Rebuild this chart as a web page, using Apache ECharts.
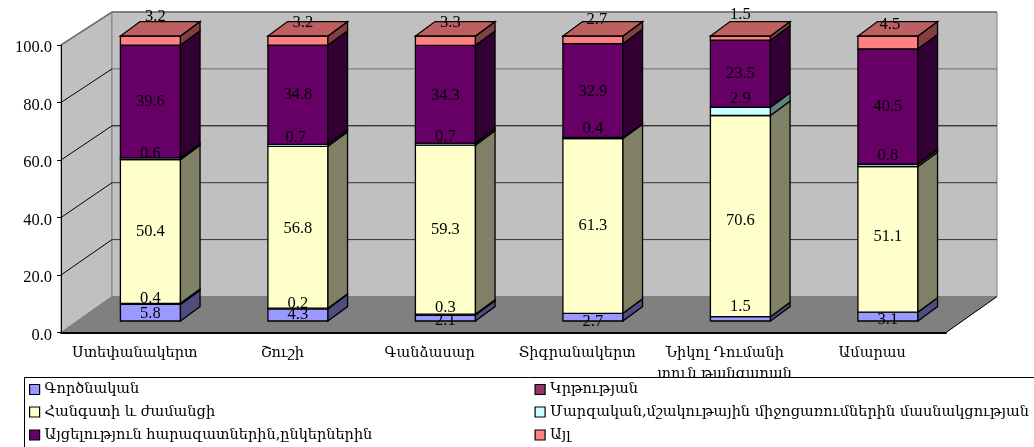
<!DOCTYPE html>
<html><head><meta charset="utf-8">
<style>html,body{margin:0;padding:0;background:#fff}#c{width:1034px;height:447px}</style>
<script src="https://cdn.jsdelivr.net/npm/echarts@6/dist/echarts.min.js"></script>
</head><body><div id="c"></div>
<script>
const categories = ['Ստեփանակերտ','Շուշի','Գանձասար','Տիգրանակերտ','Նիկոլ Դումանի\nտուն թանգարան','Ամարաս'];
const ticks = [0,20,40,60,80,100];
const sWork   = [5.8,4.3,2.1,2.7,1.5,3.1];
const sEdu    = [0.4,0.2,0.3,0,0,0];
const sRest   = [50.4,56.8,59.3,61.3,70.6,51.1];
const sSport  = [0.6,0.7,0.7,0.4,2.9,0.8];
const sVisit  = [39.6,34.8,34.3,32.9,23.5,40.5];
const sOther  = [3.2,3.2,3.3,2.7,1.5,4.5];
const names = ['Գործնական','Կրթության','Հանգստի և ժամանցի','Մարզական,մշակութային միջոցառումներին մասնակցության','Այցելություն հարազատներին,ընկերներին','Այլ'];
const colors = ['#9999FF','#993366','#FFFFCC','#CCFFFF','#660066','#FF8080'];
const sideColors = ['#4D4D80','#4D1A33','#808066','#668080','#330033','#804040'];
const topColors = ['#7373BF','#732650','#BFBF99','#99BFBF','#4D004D','#BF6060'];
// label shift in px [per series][per category]
const labelDY = [
 [1,0,3,5,-12,3],
 [-5,-5,-6.5,0,0,0],
 [0,1,0,0,5,-3],
 [-5,-8,-7,-9,-13,-10],
 [0,0,1,1,0,0],
 [-24,-18,-18,-20,-23,-18]
];
const labelDX = [
 [0,0,0,0,0,0],
 [0,0,0,0,0,0],
 [0,0,0,0,0,0],
 [0,-2,0,0,0,0],
 [0,0,0,0,0,0],
 [5,5,5,4,0,2]
];
const all = [sWork,sEdu,sRest,sSport,sVisit,sOther];

const FONT = '"Liberation Serif","DejaVu Serif",serif';
const ARM = '"DejaVu Serif","Liberation Serif",serif';
const DX = 49, DY = 36, D0 = 0.32, D1 = 0.72, WDX = 51;

function P(api, cat, v, d, shrink, side){
  const c = api.coord([cat, v]);
  return [c[0] + d*DX + (side||0), c[1] - d*DY + v/100*shrink];
}
function barSeries(si){
  const vals = all[si];
  return {
    type:'custom', name:names[si], coordinateSystem:'cartesian2d', silent:true,
    itemStyle:{color:colors[si], borderColor:'#000', borderWidth:1},
    encode:{x:0,y:[1,2]},
    data: categories.map((c,i)=>{
      let base=0; for(let k=0;k<si;k++) base+=all[k][i];
      return [i, base, base+vals[i], vals[i]];
    }),
    renderItem(params, api){
      const i = api.value(0), lo = api.value(1), hi = api.value(2), v = api.value(3);
      if(!v) return {type:'group',children:[]};
      const hw = api.size([1,0])[0]*0.2035;
      const A=(val,d,s)=>P(api,i,val,d,2.5,s);
      const st=(f)=>({fill:f,stroke:'#000',lineWidth:1.3,lineJoin:'miter'});
      const ch=[
        {type:'polygon',shape:{points:[A(lo,D0,-hw),A(lo,D0,hw),A(hi,D0,hw),A(hi,D0,-hw)]},style:st(colors[si])},
        {type:'polygon',shape:{points:[A(lo,D0,hw),A(lo,D1,hw),A(hi,D1,hw),A(hi,D0,hw)]},style:st(sideColors[si])}
      ];
      if(si===all.length-1){
        ch.push({type:'polygon',shape:{points:[A(hi,D0,-hw),A(hi,D0,hw),A(hi,D1,hw),A(hi,D1,-hw)]},style:st(topColors[si])});
      }
      const m=A((lo+hi)/2,D0,0);
      ch.push({type:'text',z2:100,x:m[0]+labelDX[si][i],y:m[1]+labelDY[si][i],
        style:{text:v.toFixed(1),font:'16.5px '+FONT,fill:'#000',align:'center',verticalAlign:'middle'}});
      return {type:'group',children:ch};
    }
  };
}
const gridColors = {20:'#333',40:'#333',60:'#000',80:'#6E6E6E',100:'#6E6E6E'};
const wallSeries = {
  type:'custom', silent:true, z:0, coordinateSystem:'cartesian2d',
  data:[[0,0]], clip:false,
  renderItem(params, api){
    const n=categories.length;
    const band=api.size([1,0])[0];
    const x0=api.coord([0,0])[0]-band/2;
    const W=(e,v,d)=>{const c=api.coord([0,v]);return [x0+e*band+d*WDX,c[1]-d*DY+(d?v/100*3:0)];};
    const L=0,R=n;
    const ch=[
      {type:'polygon',shape:{points:[W(L,0,0),W(L,0,1),W(L,100,1),W(L,100,0)]},style:{fill:'#C0C0C0',stroke:'#808080',lineWidth:1}},
      {type:'polygon',shape:{points:[W(L,0,1),W(R,0,1),W(R,100,1),W(L,100,1)]},style:{fill:'#C0C0C0',stroke:'#808080',lineWidth:1}},
      {type:'polyline',shape:{points:[W(L,100,0),W(L,100,1),W(R,100,1)]},style:{fill:null,stroke:'#707070',lineWidth:1.5}},
      {type:'polygon',shape:{points:[W(L,0,0),W(R,0,0),W(R,0,1),W(L,0,1)]},style:{fill:'#808080',stroke:'#808080',lineWidth:1}},
      {type:'polyline',shape:{points:[W(R,0,0),W(R,0,1)]},style:{stroke:'#000',lineWidth:1,fill:null}}
    ];
    ticks.forEach(t=>{
      if(t===0||t===100) return;
      const a=W(L,t,0),b=W(L,t,1),c=W(R,t,1);
      ch.push({type:'polyline',shape:{points:[a,b]},style:{stroke:'#000',lineWidth:1,fill:null}});
      ch.push({type:'polyline',shape:{points:[b,c]},style:{stroke:gridColors[t],lineWidth:1,fill:null}});
    });
    return {type:'group',children:ch};
  }
};
const legendPos = [[29,391],[534.5,391],[29,413.5],[534.5,413.5],[29,436.5],[534.5,436.5]];
const chart = echarts.init(document.getElementById('c'),null,{renderer:'canvas'});
chart.setOption({
  animation:false,
  backgroundColor:'#fff',
  grid:{left:61,top:45,width:885,height:287.5},
  xAxis:{type:'category',data:categories,boundaryGap:true,z:1,
    axisLine:{lineStyle:{color:'#000',width:2}},axisTick:{length:4,lineStyle:{color:'#000'},interval:0},
    axisLabel:{interval:0,color:'#000',fontFamily:ARM,fontSize:14.5,lineHeight:21,margin:10}},
  yAxis:{type:'value',min:0,max:100,interval:20,z:1,
    axisLine:{show:true,lineStyle:{color:'#000',width:1}},axisTick:{show:true,length:4,lineStyle:{color:'#000'}},
    splitLine:{show:false},
    axisLabel:{formatter:v=>v.toFixed(1),color:'#000',fontFamily:FONT,fontSize:16.5,margin:9,verticalAlign:'top',lineHeight:6}},
  legend: names.map((n,i)=>({
    data:[n],left:legendPos[i][0],top:legendPos[i][1]-9,itemWidth:10,itemHeight:10,itemGap:5,z:10,padding:0,
    icon:'rect',selectedMode:false,
    itemStyle:{borderColor:'#000',borderWidth:1.2},
    textStyle:{fontFamily:ARM,fontSize:14.5,color:'#000'}
  })),
  graphic:[{type:'rect',z:8,shape:{x:24.5,y:377.5,width:1020,height:80},style:{fill:'#fff',stroke:'#000',lineWidth:1}}],
  series:[wallSeries].concat(names.map((n,i)=>barSeries(i)))
});
</script></body></html>
